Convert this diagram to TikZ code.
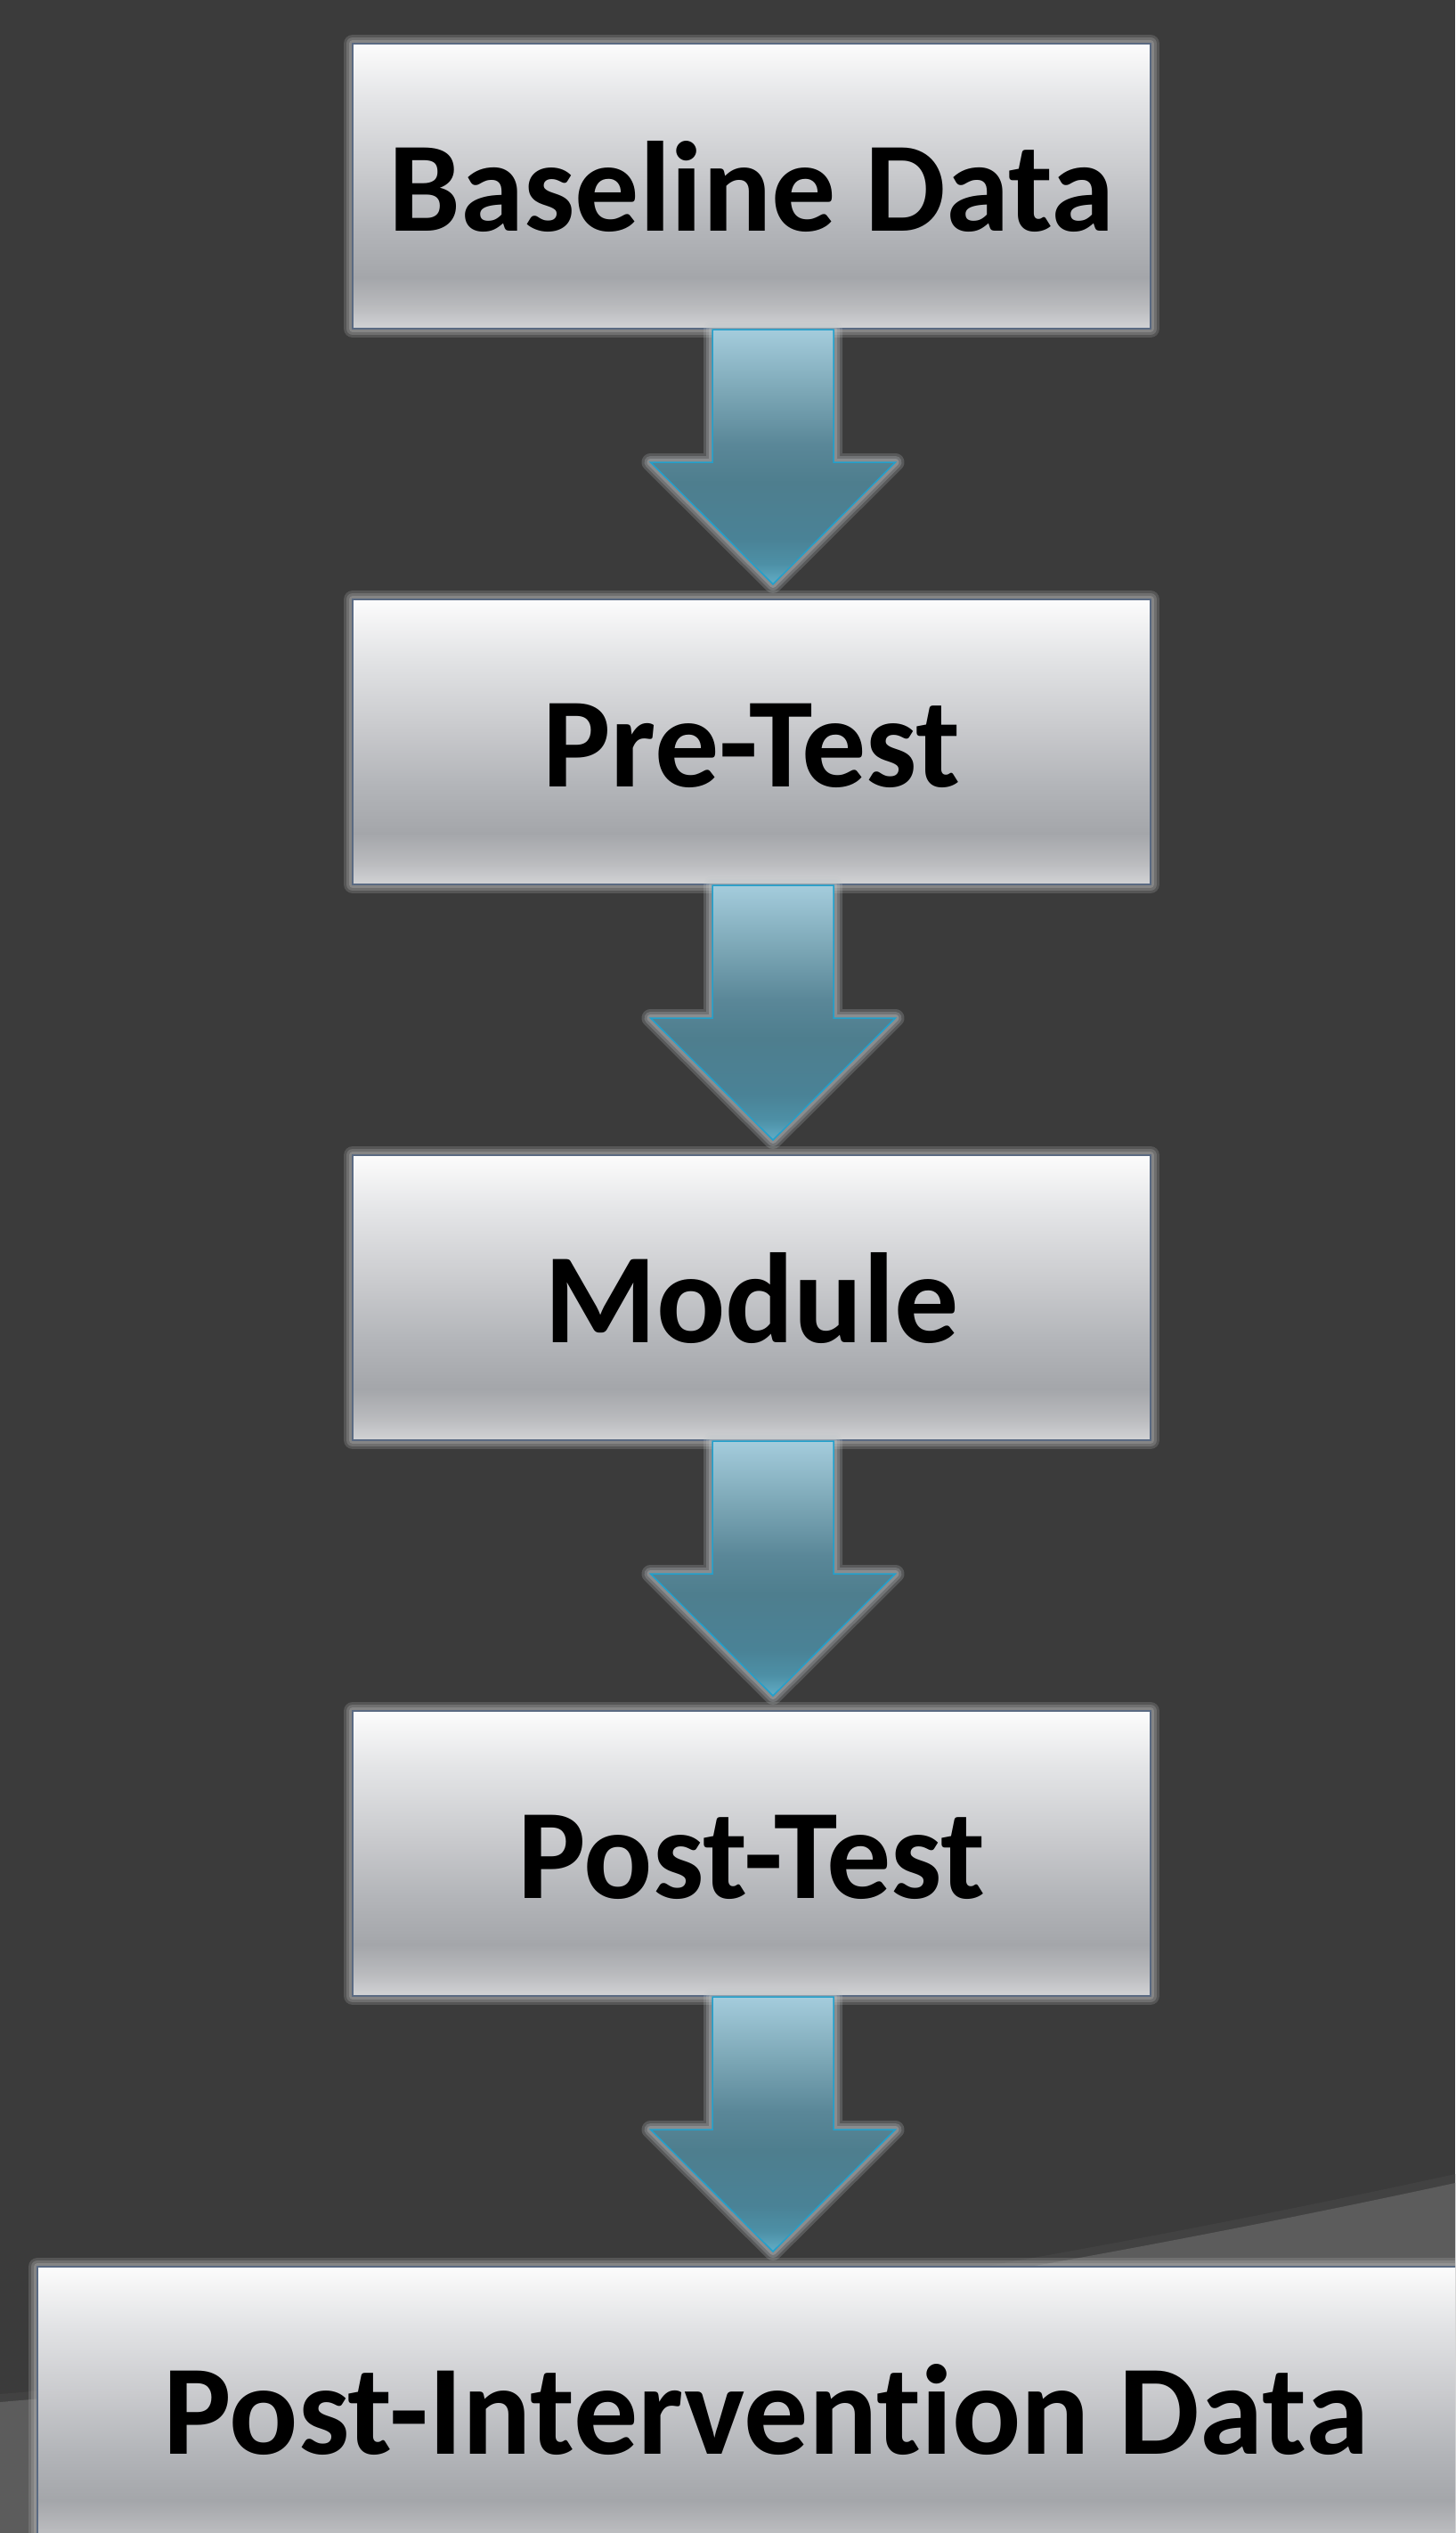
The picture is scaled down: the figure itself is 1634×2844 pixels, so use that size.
\documentclass[tikz,border=0pt]{standalone}
\usepackage{fontspec}
\setmainfont{Carlito}[Ligatures={NoCommon}]
\usetikzlibrary{calc}
\definecolor{bgc}{HTML}{3B3B3B}
\definecolor{bandc}{HTML}{424242}
\definecolor{lightc}{HTML}{5C5C5C}
\definecolor{boxborder}{HTML}{5A6A82}
\definecolor{arrowborder}{HTML}{22A0CC}
\definecolor{boxglow}{HTML}{BABABA}
\definecolor{arrowglow}{HTML}{C2C8CB}
\definecolor{bA}{HTML}{FCFCFC}
\definecolor{bB}{HTML}{E3E4E6}
\definecolor{bC}{HTML}{C9CACD}
\definecolor{bD}{HTML}{B3B5B9}
\definecolor{bE}{HTML}{A4A6AA}
\definecolor{bF}{HTML}{B9BABD}
\definecolor{bG}{HTML}{D2D3D5}
\definecolor{aA}{HTML}{A4CCDC}
\definecolor{aB}{HTML}{7BA6B5}
\definecolor{aC}{HTML}{5A8798}
\definecolor{aD}{HTML}{4E7E8E}
\definecolor{aE}{HTML}{4A8296}
\definecolor{aF}{HTML}{4D90A6}
\definecolor{aG}{HTML}{62ADC6}
\pgfdeclareverticalshading{boxshade}{100bp}{color(0bp)=(bG); color(25bp)=(bG); color(29bp)=(bF); color(34bp)=(bE); color(42.5bp)=(bD); color(52.5bp)=(bC); color(65bp)=(bB); color(75bp)=(bA); color(100bp)=(bA)}
\pgfdeclareverticalshading{arrowshade}{100bp}{color(0bp)=(aG); color(25bp)=(aG); color(29bp)=(aF); color(34bp)=(aE); color(45bp)=(aD); color(52.5bp)=(aC); color(62.5bp)=(aB); color(75bp)=(aA); color(100bp)=(aA)}
\newcommand\flowarrow[2]{%
  \path (#1.south) ++(24,0) coordinate (sa);
  \path (sa |- #2.north) ++(0,-16) coordinate (sp);
  \draw[arrowstyle] ($(sa)+(-68,0)$) -- ($(sa)+(68,0)$) -- ($(sp)+(68,-137)$) -- ($(sp)+(137.5,-137)$) -- (sp) -- ($(sp)+(-137.5,-137)$) -- ($(sp)+(-68,-137)$) -- cycle;
}
\begin{document}
\begin{tikzpicture}[x=0.5pt,y=-0.5pt,
  box/.style={rectangle, inner sep=0pt, minimum width=448pt, minimum height=160pt,
    draw=boxborder, line width=1pt, shading=boxshade, shade,
    preaction={draw=boxglow, line width=10pt, opacity=0.22, line join=round},
    preaction={draw=boxglow, line width=7pt, opacity=0.25, line join=round},
    preaction={draw=boxglow, line width=4pt, opacity=0.3, line join=round},
    font=\bfseries\fontsize{72pt}{80pt}\selectfont, text=black,
    text height=50pt, text depth=0pt},
  arrowstyle/.style={draw=arrowborder, line width=0.75pt, shading=arrowshade, shade, line join=miter,
    preaction={draw=arrowglow, line width=10pt, opacity=0.22, line join=round},
    preaction={draw=arrowglow, line width=7pt, opacity=0.25, line join=round},
    preaction={draw=arrowglow, line width=4pt, opacity=0.3, line join=round}}
]
\useasboundingbox (0,0) rectangle (1634,2844);
\fill[bgc] (0,0) rectangle (1634,2844);
\begin{scope}
\clip (0,0) rectangle (1634,2844);
\fill[bandc] (0,2688) .. controls (544.7,2641.6) and (1089.3,2559.6) .. (1634,2441) -- (1634,2844) -- (0,2844) -- cycle;
\fill[lightc] (0,2697) .. controls (544.7,2650.6) and (1089.3,2568.6) .. (1634,2451) -- (1634,2844) -- (0,2844) -- cycle;

\node[box] (b1) at (844,209) {Baseline Data};
\node[box] (b2) at (844,833) {Pre-Test};
\node[box] (b3) at (844,1457) {Module};
\node[box] (b4) at (844,2081) {Post-Test};
\node[box, minimum width=818pt] (b5) at (860,2705) {Post-Intervention Data};

\flowarrow{b1}{b2}
\flowarrow{b2}{b3}
\flowarrow{b3}{b4}
\flowarrow{b4}{b5}
\end{scope}
\end{tikzpicture}
\end{document}
